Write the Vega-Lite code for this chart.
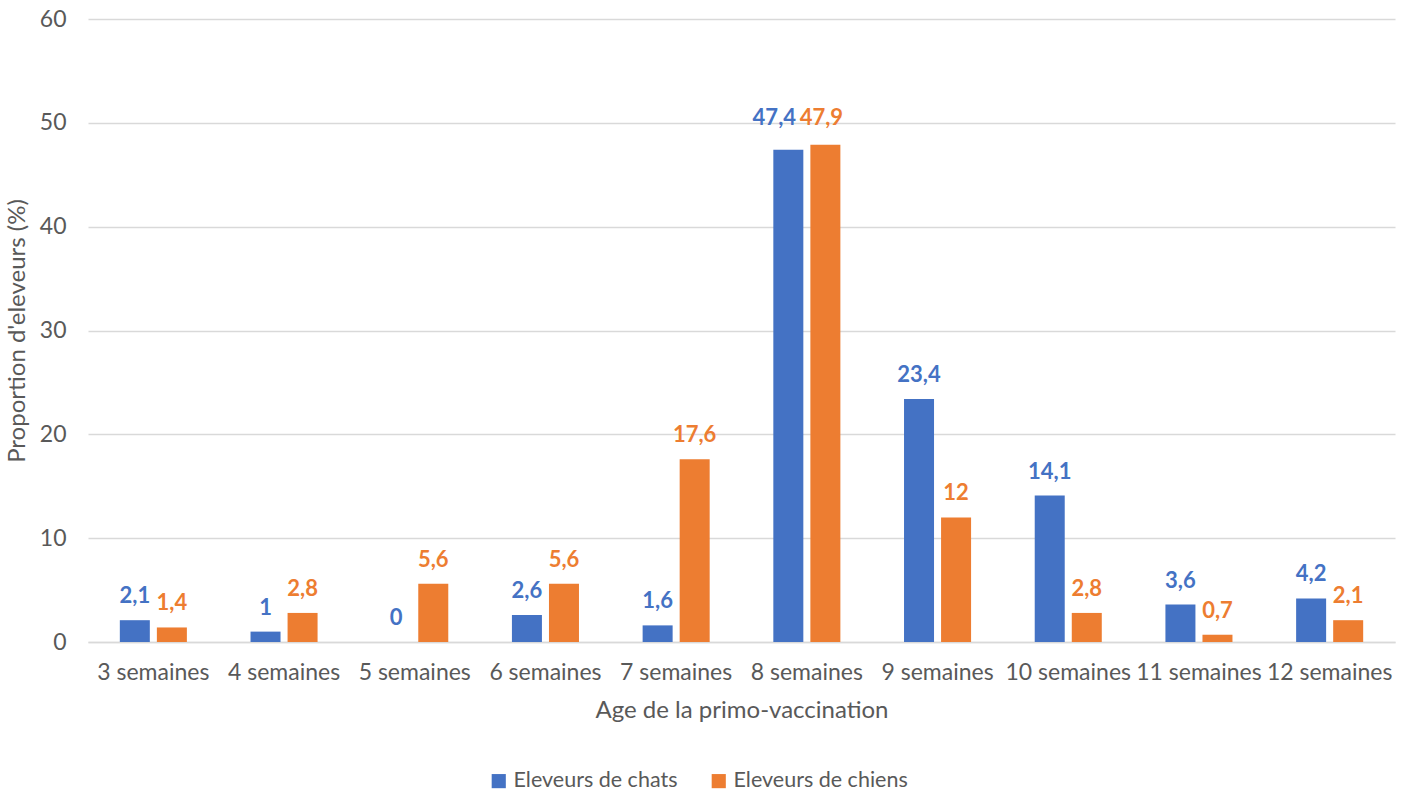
{
  "$schema": "https://vega.github.io/schema/vega-lite/v6.json",
  "width": 1307,
  "height": 623,
  "autosize": {"type": "none"},
  "padding": {"left": 88, "top": 19, "right": 13, "bottom": 152},
  "background": "white",
  "config": {
    "font": "Lato",
    "view": {"stroke": null},
    "locale": {"number": {"decimal": ",", "thousands": " ", "grouping": [3], "currency": ["", " €"]}}
  },
  "data": {
    "values": [
      {"age": "3 semaines", "serie": "Eleveurs de chats", "value": 2.1, "special": false},
      {"age": "3 semaines", "serie": "Eleveurs de chiens", "value": 1.4, "special": false},
      {"age": "4 semaines", "serie": "Eleveurs de chats", "value": 1, "special": false},
      {"age": "4 semaines", "serie": "Eleveurs de chiens", "value": 2.8, "special": false},
      {"age": "5 semaines", "serie": "Eleveurs de chats", "value": 0, "special": false},
      {"age": "5 semaines", "serie": "Eleveurs de chiens", "value": 5.6, "special": false},
      {"age": "6 semaines", "serie": "Eleveurs de chats", "value": 2.6, "special": false},
      {"age": "6 semaines", "serie": "Eleveurs de chiens", "value": 5.6, "special": false},
      {"age": "7 semaines", "serie": "Eleveurs de chats", "value": 1.6, "special": false},
      {"age": "7 semaines", "serie": "Eleveurs de chiens", "value": 17.6, "special": false},
      {"age": "8 semaines", "serie": "Eleveurs de chats", "value": 47.4, "special": true},
      {"age": "8 semaines", "serie": "Eleveurs de chiens", "value": 47.9, "special": true},
      {"age": "9 semaines", "serie": "Eleveurs de chats", "value": 23.4, "special": false},
      {"age": "9 semaines", "serie": "Eleveurs de chiens", "value": 12, "special": false},
      {"age": "10 semaines", "serie": "Eleveurs de chats", "value": 14.1, "special": false},
      {"age": "10 semaines", "serie": "Eleveurs de chiens", "value": 2.8, "special": false},
      {"age": "11 semaines", "serie": "Eleveurs de chats", "value": 3.6, "special": false},
      {"age": "11 semaines", "serie": "Eleveurs de chiens", "value": 0.7, "special": false},
      {"age": "12 semaines", "serie": "Eleveurs de chats", "value": 4.2, "special": false},
      {"age": "12 semaines", "serie": "Eleveurs de chiens", "value": 2.1, "special": false}
    ]
  },
  "encoding": {
    "x": {
      "field": "age", "type": "nominal", "sort": null,
      "scale": {"paddingInner": 0.487, "paddingOuter": 0.2435},
      "axis": {
        "title": "Age de la primo-vaccination", "labelAngle": 0,
        "labelFont": "Lato", "labelFontSize": 23, "labelColor": "#595959",
        "titleFont": "Lato", "titleFontSize": 24, "titleColor": "#595959", "titleFontWeight": "normal",
        "labelPadding": 19, "titlePadding": 14,
        "ticks": false, "domainColor": "#d9d9d9", "domainWidth": 1.5
      }
    },
    "xOffset": {"field": "serie", "type": "nominal", "scale": {"paddingInner": 0.19}},
    "color": {
      "field": "serie", "type": "nominal",
      "scale": {"range": ["#4472C4", "#ED7D31"]},
      "legend": {
        "title": null, "orient": "none", "direction": "horizontal",
        "legendX": 400, "legendY": 751,
        "symbolType": "square", "symbolSize": 200, "symbolStrokeWidth": 0,
        "labelFont": "Lato", "labelFontSize": 21.5, "labelColor": "#595959", "labelOffset": 4,
        "labelLimit": 400, "columnPadding": 30
      }
    }
  },
  "layer": [
    {
      "mark": {"type": "bar"},
      "encoding": {
        "y": {
          "field": "value", "type": "quantitative",
          "scale": {"domain": [0, 60]},
          "axis": {
            "title": "Proportion d'eleveurs (%)", "values": [0, 10, 20, 30, 40, 50, 60],
            "labelFont": "Lato", "labelFontSize": 23, "labelColor": "#595959",
            "titleFont": "Lato", "titleFontSize": 24, "titleColor": "#595959", "titleFontWeight": "normal",
            "labelPadding": 22, "titlePadding": 10,
            "ticks": false, "domain": false,
            "gridColor": "#d9d9d9", "gridWidth": 1.5
          }
        }
      }
    },
    {
      "transform": [{"filter": "!datum.special"}],
      "mark": {"type": "text", "baseline": "bottom", "dy": -12, "fontSize": 22, "fontWeight": "bold", "font": "Lato"},
      "encoding": {
        "y": {"field": "value", "type": "quantitative"},
        "text": {"field": "value", "type": "quantitative", "format": "~g"}
      }
    },
    {
      "transform": [{"filter": "datum.special && datum.serie == 'Eleveurs de chats'"}],
      "mark": {"type": "text", "baseline": "middle", "dy": -5, "dx": -14, "fontSize": 22, "fontWeight": "bold", "font": "Lato"},
      "encoding": {
        "y": {"datum": 50, "type": "quantitative"},
        "text": {"field": "value", "type": "quantitative", "format": "~g"}
      }
    },
    {
      "transform": [{"filter": "datum.special && datum.serie == 'Eleveurs de chiens'"}],
      "mark": {"type": "text", "baseline": "middle", "dy": -5, "dx": -4, "fontSize": 22, "fontWeight": "bold", "font": "Lato"},
      "encoding": {
        "y": {"datum": 50, "type": "quantitative"},
        "text": {"field": "value", "type": "quantitative", "format": "~g"}
      }
    }
  ]
}
